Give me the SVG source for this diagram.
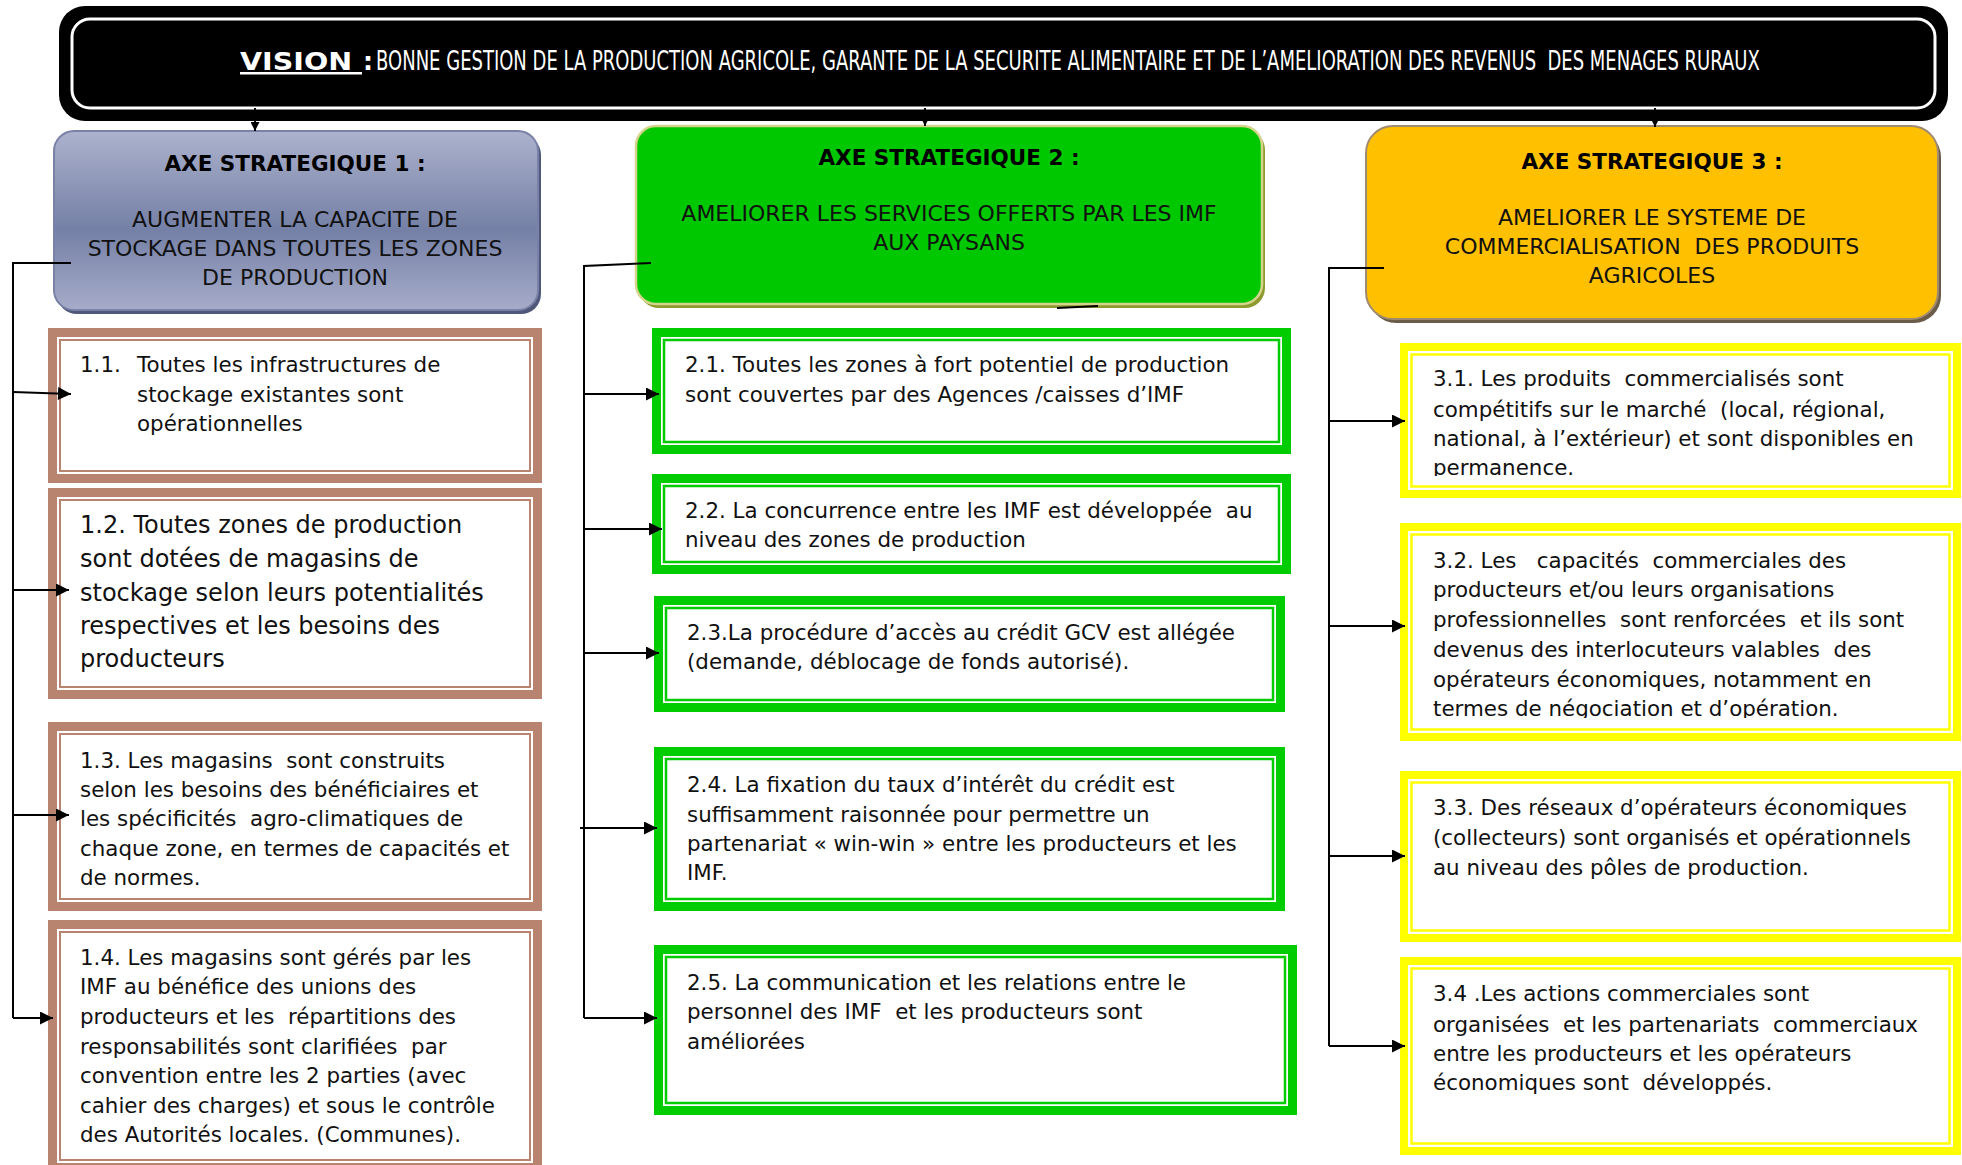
<svg xmlns="http://www.w3.org/2000/svg" width="1962" height="1165" viewBox="0 0 1962 1165">
  <defs>
    <linearGradient id="axe1Fill" x1="0" y1="0" x2="0" y2="1">
      <stop offset="0" stop-color="#acb2cd"/>
      <stop offset="0.55" stop-color="#7580a6"/>
      <stop offset="1" stop-color="#a6acc9"/>
    </linearGradient>
    <marker id="arrow" viewBox="0 0 10 10" refX="10" refY="5" markerWidth="16" markerHeight="13" markerUnits="userSpaceOnUse" orient="auto">
      <path d="M0,0 L10,5 L0,10 z" fill="#000"/>
    </marker>
    <marker id="arrowSmall" viewBox="0 0 10 10" refX="10" refY="5" markerWidth="10" markerHeight="9" markerUnits="userSpaceOnUse" orient="auto">
      <path d="M0,0 L10,5 L0,10 z" fill="#000"/>
    </marker>
    <clipPath id="clip31"><rect x="1411" y="354" width="539" height="122"/></clipPath>
    <clipPath id="clip32"><rect x="1411" y="534" width="539" height="184"/></clipPath>
  </defs>
  <style>
    text { font-family: "DejaVu Sans", "Liberation Sans", sans-serif; white-space: pre; }
    .t { font-size: 21.4px; fill: #111; }
    .big { font-size: 24px; fill: #111; }
    .ax { font-size: 22px; fill: #111; text-anchor: middle; }
    .axb { font-size: 21.5px; fill: #000; font-weight: bold; text-anchor: middle; }
    .brown-band { fill: #b8836f; }
    .brown-line { fill: none; stroke: #b8836f; stroke-width: 2; }
    .green-band { fill: #00cc00; }
    .green-line { fill: none; stroke: #00cc00; stroke-width: 2.5; }
    .yellow-band { fill: #ffff00; }
    .yellow-line { fill: none; stroke: #ffff00; stroke-width: 2.5; }
    .inner { fill: #ffffff; }
    .vision { font-size: 25px; fill: #ffffff; font-weight: bold; }
    .vision-line { font-size: 18px; fill: #ffffff; }
  </style>

  <!-- Vision banner -->
  <g id="vision">
    <rect x="59" y="6" width="1889" height="115" rx="26" fill="#000"/>
    <rect x="72" y="19" width="1863" height="89" rx="18" fill="#000" stroke="#fff" stroke-width="3"/>
    <text x="240" y="70" class="vision" text-decoration="underline" textLength="122" lengthAdjust="spacingAndGlyphs">VISION </text>
    <text x="363" y="70" class="vision">:</text>
    <!-- tall, narrow lettering: 18px text stretched vertically -->
    <text transform="translate(376,70) scale(1,1.45)" x="0" y="0" class="vision-line">BONNE GESTION DE LA PRODUCTION AGRICOLE, GARANTE DE LA SECURITE ALIMENTAIRE ET DE L’AMELIORATION DES REVENUS  DES MENAGES RURAUX</text>
  </g>

  <!-- Strategic axis 1 -->
  <g id="axe1">
    <rect x="57" y="135" width="484" height="179" rx="20" fill="#4f587a"/>
    <rect x="54" y="131" width="484" height="179" rx="20" fill="url(#axe1Fill)" stroke="#7982a6" stroke-width="2"/>
    <text x="295" y="171" class="axb">AXE STRATEGIQUE 1 :</text>
    <text x="295" y="227" class="ax">AUGMENTER LA CAPACITE DE</text>
    <text x="295" y="256" class="ax">STOCKAGE DANS TOUTES LES ZONES</text>
    <text x="295" y="285" class="ax">DE PRODUCTION</text>
  </g>

  <!-- Strategic axis 2 -->
  <g id="axe2">
    <rect x="639" y="130" width="626" height="178" rx="20" fill="#8f9a2e"/>
    <rect x="636" y="126" width="626" height="178" rx="20" fill="#00c800" stroke="#d6d38c" stroke-width="2.5"/>
    <text x="949" y="165" class="axb">AXE STRATEGIQUE 2 :</text>
    <text x="949" y="221" class="ax">AMELIORER LES SERVICES OFFERTS PAR LES IMF</text>
    <text x="949" y="250" class="ax">AUX PAYSANS</text>
  </g>

  <!-- Strategic axis 3 -->
  <g id="axe3">
    <rect x="1369" y="130" width="572" height="193" rx="27" fill="#6b5c4a"/>
    <rect x="1366" y="126" width="572" height="193" rx="27" fill="#ffc000" stroke="#a08b70" stroke-width="2"/>
    <text x="1652" y="169" class="axb">AXE STRATEGIQUE 3 :</text>
    <text x="1652" y="225" class="ax">AMELIORER LE SYSTEME DE</text>
    <text x="1652" y="254" class="ax">COMMERCIALISATION  DES PRODUITS</text>
    <text x="1652" y="283" class="ax">AGRICOLES</text>
  </g>

  <!-- Results of axis 1 -->
  <g id="r11">
    <rect class="brown-band" x="48" y="328" width="494" height="155"/>
    <rect class="inner" x="57" y="337" width="476" height="137"/>
    <rect class="brown-line" x="60" y="340" width="470" height="131"/>
    <text x="80" y="372" class="t">1.1.</text>
    <text x="137" y="372" class="t">Toutes les infrastructures de</text>
    <text x="137" y="402" class="t">stockage existantes sont</text>
    <text x="137" y="431" class="t">opérationnelles</text>
  </g>
  <g id="r12">
    <rect class="brown-band" x="48" y="488" width="494" height="211"/>
    <rect class="inner" x="57" y="497" width="476" height="193"/>
    <rect class="brown-line" x="60" y="500" width="470" height="187"/>
    <text x="80" y="533" class="big">1.2. Toutes zones de production</text>
    <text x="80" y="567" class="big">sont dotées de magasins de</text>
    <text x="80" y="601" class="big">stockage selon leurs potentialités</text>
    <text x="80" y="634" class="big">respectives et les besoins des</text>
    <text x="80" y="667" class="big">producteurs</text>
  </g>
  <g id="r13">
    <rect class="brown-band" x="48" y="722" width="494" height="189"/>
    <rect class="inner" x="57" y="731" width="476" height="171"/>
    <rect class="brown-line" x="60" y="734" width="470" height="165"/>
    <text x="80" y="768" class="t">1.3. Les magasins  sont construits</text>
    <text x="80" y="797" class="t">selon les besoins des bénéficiaires et</text>
    <text x="80" y="826" class="t">les spécificités  agro-climatiques de</text>
    <text x="80" y="856" class="t">chaque zone, en termes de capacités et</text>
    <text x="80" y="885" class="t">de normes.</text>
  </g>
  <g id="r14">
    <rect class="brown-band" x="48" y="920" width="494" height="252"/>
    <rect class="inner" x="57" y="929" width="476" height="234"/>
    <rect class="brown-line" x="60" y="932" width="470" height="228"/>
    <text x="80" y="965" class="t">1.4. Les magasins sont gérés par les</text>
    <text x="80" y="994" class="t">IMF au bénéfice des unions des</text>
    <text x="80" y="1024" class="t">producteurs et les  répartitions des</text>
    <text x="80" y="1054" class="t">responsabilités sont clarifiées  par</text>
    <text x="80" y="1083" class="t">convention entre les 2 parties (avec</text>
    <text x="80" y="1113" class="t">cahier des charges) et sous le contrôle</text>
    <text x="80" y="1142" class="t">des Autorités locales. (Communes).</text>
  </g>

  <!-- Results of axis 2 -->
  <g id="r21">
    <rect class="green-band" x="652" y="328" width="639" height="126"/>
    <rect class="inner" x="661" y="337" width="621" height="108"/>
    <rect class="green-line" x="664" y="340" width="615" height="102"/>
    <text x="685" y="372" class="t">2.1. Toutes les zones à fort potentiel de production</text>
    <text x="685" y="402" class="t">sont couvertes par des Agences /caisses d’IMF</text>
  </g>
  <g id="r22">
    <rect class="green-band" x="652" y="474" width="639" height="100"/>
    <rect class="inner" x="661" y="483" width="621" height="82"/>
    <rect class="green-line" x="664" y="486" width="615" height="76"/>
    <text x="685" y="518" class="t">2.2. La concurrence entre les IMF est développée  au</text>
    <text x="685" y="547" class="t">niveau des zones de production</text>
  </g>
  <g id="r23">
    <rect class="green-band" x="654" y="596" width="631" height="116"/>
    <rect class="inner" x="663" y="605" width="613" height="98"/>
    <rect class="green-line" x="666" y="608" width="607" height="92"/>
    <text x="687" y="640" class="t">2.3.La procédure d’accès au crédit GCV est allégée</text>
    <text x="687" y="669" class="t">(demande, déblocage de fonds autorisé).</text>
  </g>
  <g id="r24">
    <rect class="green-band" x="654" y="747" width="631" height="164"/>
    <rect class="inner" x="663" y="756" width="613" height="146"/>
    <rect class="green-line" x="666" y="759" width="607" height="140"/>
    <text x="687" y="792" class="t">2.4. La fixation du taux d’intérêt du crédit est</text>
    <text x="687" y="822" class="t">suffisamment raisonnée pour permettre un</text>
    <text x="687" y="851" class="t">partenariat « win-win » entre les producteurs et les</text>
    <text x="687" y="880" class="t">IMF.</text>
  </g>
  <g id="r25">
    <rect class="green-band" x="654" y="945" width="643" height="170"/>
    <rect class="inner" x="663" y="954" width="625" height="152"/>
    <rect class="green-line" x="666" y="957" width="619" height="146"/>
    <text x="687" y="990" class="t">2.5. La communication et les relations entre le</text>
    <text x="687" y="1019" class="t">personnel des IMF  et les producteurs sont</text>
    <text x="687" y="1049" class="t">améliorées</text>
  </g>

  <!-- Results of axis 3 -->
  <g id="r31">
    <rect class="yellow-band" x="1400" y="343" width="561" height="155"/>
    <rect class="inner" x="1408" y="351" width="545" height="139"/>
    <rect class="yellow-line" x="1411.5" y="354.5" width="538" height="132"/>
    <g clip-path="url(#clip31)">
      <text x="1433" y="386" class="t">3.1. Les produits  commercialisés sont</text>
      <text x="1433" y="417" class="t">compétitifs sur le marché  (local, régional,</text>
      <text x="1433" y="446" class="t">national, à l’extérieur) et sont disponibles en</text>
      <text x="1433" y="475" class="t">permanence.</text>
    </g>
  </g>
  <g id="r32">
    <rect class="yellow-band" x="1400" y="523" width="561" height="218"/>
    <rect class="inner" x="1408" y="531" width="545" height="202"/>
    <rect class="yellow-line" x="1411.5" y="534.5" width="538" height="195"/>
    <g clip-path="url(#clip32)">
      <text x="1433" y="568" class="t">3.2. Les   capacités  commerciales des</text>
      <text x="1433" y="597" class="t">producteurs et/ou leurs organisations</text>
      <text x="1433" y="627" class="t">professionnelles  sont renforcées  et ils sont</text>
      <text x="1433" y="657" class="t">devenus des interlocuteurs valables  des</text>
      <text x="1433" y="687" class="t">opérateurs économiques, notamment en</text>
      <text x="1433" y="716" class="t">termes de négociation et d’opération.</text>
    </g>
  </g>
  <g id="r33">
    <rect class="yellow-band" x="1400" y="771" width="561" height="171"/>
    <rect class="inner" x="1408" y="779" width="545" height="155"/>
    <rect class="yellow-line" x="1411.5" y="782.5" width="538" height="148"/>
    <text x="1433" y="815" class="t">3.3. Des réseaux d’opérateurs économiques</text>
    <text x="1433" y="845" class="t">(collecteurs) sont organisés et opérationnels</text>
    <text x="1433" y="875" class="t">au niveau des pôles de production.</text>
  </g>
  <g id="r34">
    <rect class="yellow-band" x="1400" y="957" width="561" height="198"/>
    <rect class="inner" x="1408" y="965" width="545" height="182"/>
    <rect class="yellow-line" x="1411.5" y="968.5" width="538" height="175"/>
    <text x="1433" y="1001" class="t">3.4 .Les actions commerciales sont</text>
    <text x="1433" y="1032" class="t">organisées  et les partenariats  commerciaux</text>
    <text x="1433" y="1061" class="t">entre les producteurs et les opérateurs</text>
    <text x="1433" y="1090" class="t">économiques sont  développés.</text>
  </g>

  <!-- Connectors -->
  <g id="connectors" fill="none" stroke="#000" stroke-width="2">
    <path d="M255,108 V131" marker-end="url(#arrowSmall)"/>
    <path d="M925,108 V126" marker-end="url(#arrowSmall)"/>
    <path d="M1655,108 V127" marker-end="url(#arrowSmall)"/>

    <path d="M71,263 H13 V1018"/>
    <path d="M13,392 L71,394" marker-end="url(#arrow)"/>
    <path d="M13,590 H69" marker-end="url(#arrow)"/>
    <path d="M13,815 H69" marker-end="url(#arrow)"/>
    <path d="M13,1018 H53" marker-end="url(#arrow)"/>

    <path d="M651,263 L584,266 V1018"/>
    <path d="M584,394 H659" marker-end="url(#arrow)"/>
    <path d="M584,529 H662" marker-end="url(#arrow)"/>
    <path d="M584,653 H659" marker-end="url(#arrow)"/>
    <path d="M580,828 H657" marker-end="url(#arrow)"/>
    <path d="M584,1018 H657" marker-end="url(#arrow)"/>
    <path d="M1057,308 L1098,306"/>

    <path d="M1384,268 H1329 V1046"/>
    <path d="M1329,421 H1405" marker-end="url(#arrow)"/>
    <path d="M1329,626 H1405" marker-end="url(#arrow)"/>
    <path d="M1329,856 H1405" marker-end="url(#arrow)"/>
    <path d="M1329,1046 H1405" marker-end="url(#arrow)"/>
  </g>
</svg>
